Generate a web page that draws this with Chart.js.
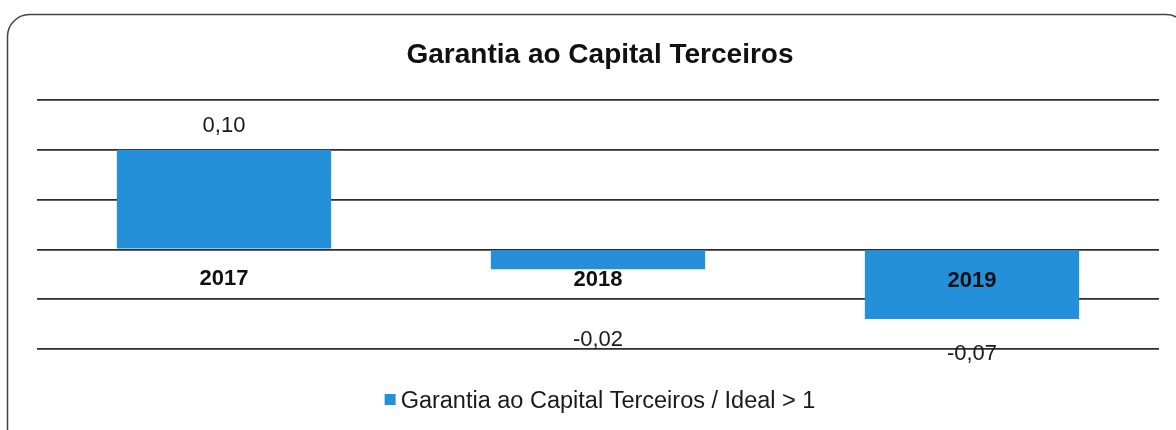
<!DOCTYPE html>
<html>
<head>
<meta charset="utf-8">
<script src="https://cdn.jsdelivr.net/npm/chart.js@4/dist/chart.umd.min.js"></script>
<style>
  html, body { margin: 0; padding: 0; background: #ffffff; }
  #wrap { position: relative; width: 1176px; height: 430px; }
</style>
</head>
<body>
<div id="wrap"><canvas id="c" width="1176" height="430"></canvas></div>
<script>
// ---- data ----
const categories = ['2017', '2018', '2019'];
const values = [0.10, -0.02, -0.07];
const valueLabels = ['0,10', '-0,02', '-0,07'];
const seriesName = 'Garantia ao Capital Terceiros / Ideal > 1';
const chartTitle = 'Garantia ao Capital Terceiros';
const yTicks = { min: -0.10, max: 0.15, step: 0.05 };

// ---- style ----
const FONT = '"Liberation Sans", Arial, sans-serif';
const BAR_COLOR = '#2390d9';
const GRID_COLOR = '#2e2e2e';
const valueLabelOffsets = [-18, 77, 41];   // baseline offset from bar end (px)
const catLabelOffsets = [36, 37, 38];      // baseline offset below zero line (px)

const decor = {
  id: 'decor',
  beforeDraw(chart) {
    const ctx = chart.ctx;
    ctx.save();
    ctx.fillStyle = '#ffffff';
    ctx.fillRect(0, 0, chart.width, chart.height);
    // rounded frame
    ctx.strokeStyle = '#444';
    ctx.lineWidth = 1.5;
    const x0 = 7.5, y0 = 14.5, x1 = 1188, y1 = 450, r = 22;
    ctx.beginPath();
    ctx.moveTo(x0, y1);
    ctx.lineTo(x0, y0 + r);
    ctx.arcTo(x0, y0, x0 + r, y0, r);
    ctx.lineTo(x1 - r, y0);
    ctx.arcTo(x1, y0, x1, y0 + r, r);
    ctx.lineTo(x1, y1);
    ctx.stroke();
    ctx.restore();
  },
  afterDatasetsDraw(chart) {
    const ctx = chart.ctx;
    const meta = chart.getDatasetMeta(0);
    const yScale = chart.scales.y;
    const zeroY = yScale.getPixelForValue(0);
    ctx.save();
    ctx.textAlign = 'center';
    ctx.textBaseline = 'alphabetic';
    // title
    ctx.fillStyle = '#111';
    ctx.font = 'bold 28px ' + FONT;
    ctx.fillText(chartTitle, 600, 63);
    meta.data.forEach((bar, i) => {
      // category labels on zero line
      ctx.font = 'bold 22px ' + FONT;
      ctx.fillStyle = '#111';
      ctx.fillText(categories[i], bar.x, zeroY + catLabelOffsets[i]);
      // value labels
      ctx.font = '22px ' + FONT;
      ctx.fillStyle = '#1a1a1a';
      ctx.fillText(valueLabels[i], bar.x, bar.y + valueLabelOffsets[i]);
    });
    // legend
    ctx.font = '23.5px ' + FONT;
    ctx.textAlign = 'left';
    const tw = ctx.measureText(seriesName).width;
    const box = 11, gap = 5;
    const lx = 600 - (box + gap + tw) / 2;
    ctx.fillStyle = BAR_COLOR;
    ctx.fillRect(lx, 394, box, box);
    ctx.fillStyle = '#1a1a1a';
    ctx.fillText(seriesName, lx + box + gap, 408);
    ctx.restore();
  }
};

new Chart(document.getElementById('c'), {
  type: 'bar',
  data: {
    labels: categories,
    datasets: [{
      label: seriesName,
      data: values,
      backgroundColor: BAR_COLOR,
      borderWidth: 0,
      categoryPercentage: 1.0,
      barPercentage: 0.573
    }]
  },
  options: {
    responsive: false,
    animation: false,
    devicePixelRatio: 1,
    layout: { padding: { left: 37, right: 17, top: 100, bottom: 81 } },
    plugins: {
      legend: { display: false },
      title: { display: false },
      tooltip: { enabled: false }
    },
    scales: {
      x: { display: false },
      y: {
        min: yTicks.min,
        max: yTicks.max,
        ticks: { display: false, stepSize: yTicks.step },
        grid: { color: GRID_COLOR, lineWidth: 1.8, drawTicks: false },
        border: { display: false }
      }
    }
  },
  plugins: [decor]
});
</script>
</body>
</html>
